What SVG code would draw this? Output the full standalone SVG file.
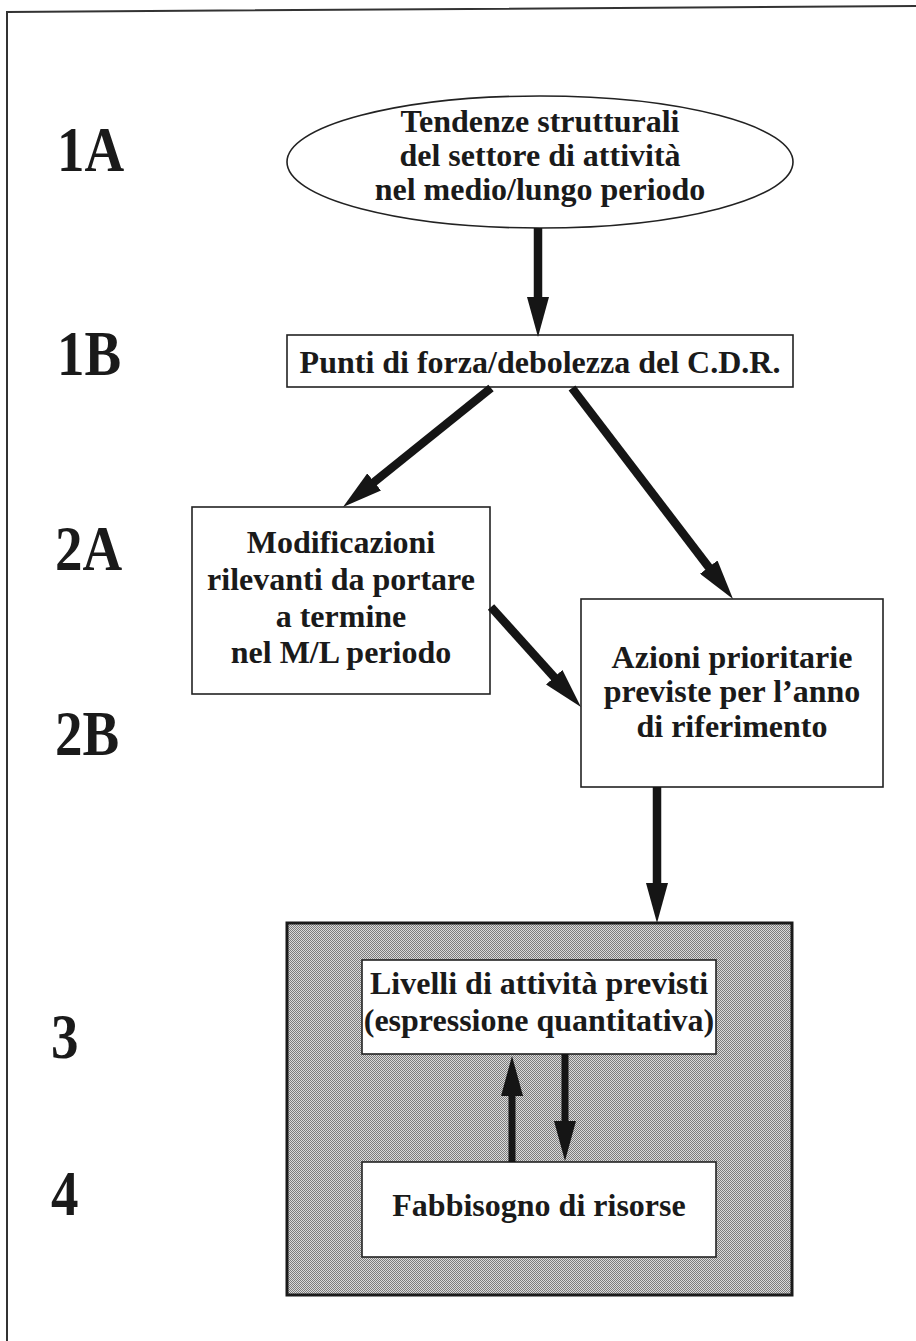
<svg xmlns="http://www.w3.org/2000/svg" width="916" height="1341" viewBox="0 0 916 1341">
<style>
.t{font-family:"Liberation Serif","Times New Roman",serif;font-weight:bold;font-size:32px;fill:#1a1a1a;text-anchor:middle}
.lab{font-family:"Liberation Serif","Times New Roman",serif;font-weight:bold;font-size:55px;fill:#1a1a1a}
.box{fill:#fff;stroke:#222;stroke-width:1.6}
.conn{stroke:#151515;stroke-width:8.5;fill:none;marker-end:url(#ah)}
.conn2{stroke:#151515;stroke-width:7;fill:none;marker-end:url(#ah)}
</style>
<defs>
<marker id="ah" markerUnits="userSpaceOnUse" markerWidth="40" markerHeight="22" viewBox="0 0 40 22" refX="10" refY="11" orient="auto">
<path d="M0,0 L40,11 L0,22 z" fill="#151515"/>
</marker>
<pattern id="dots" width="2" height="2" patternUnits="userSpaceOnUse">
<rect width="2" height="2" fill="#dadada"/>
<rect width="1" height="1" fill="#7c7c7c"/>
<rect x="1" y="1" width="1" height="1" fill="#7c7c7c"/>
</pattern>
</defs>
<rect width="916" height="1341" fill="#fff"/>
<path d="M7,1341 L7,12 L916,6" fill="none" stroke="#333" stroke-width="2"/>

<g id="labels">
<text class="lab" transform="translate(57,171) scale(1,1.15)">1A</text>
<text class="lab" transform="translate(57,375) scale(1,1.15)">1B</text>
<text class="lab" transform="translate(55,570) scale(1,1.15)">2A</text>
<text class="lab" transform="translate(55,755) scale(1,1.15)">2B</text>
<text class="lab" transform="translate(51,1058) scale(1,1.15)">3</text>
<text class="lab" transform="translate(51,1215) scale(1,1.15)">4</text>
</g>

<g id="n1A">
<ellipse class="box" cx="540" cy="162" rx="253" ry="66"/>
<text class="t" x="540" y="132">Tendenze strutturali</text>
<text class="t" x="540" y="166">del settore di attività</text>
<text class="t" x="540" y="200">nel medio/lungo periodo</text>
</g>

<g id="n1B">
<rect class="box" x="287" y="335" width="506" height="52"/>
<text class="t" x="540" y="373">Punti di forza/debolezza del C.D.R.</text>
</g>

<g id="n2A">
<rect class="box" x="192" y="507" width="298" height="187"/>
<text class="t" x="341" y="553">Modificazioni</text>
<text class="t" x="341" y="590">rilevanti da portare</text>
<text class="t" x="341" y="627">a termine</text>
<text class="t" x="341" y="663">nel M/L periodo</text>
</g>

<g id="n2B">
<rect class="box" x="581" y="599" width="302" height="188"/>
<text class="t" x="732" y="668">Azioni prioritarie</text>
<text class="t" x="732" y="702">previste per l’anno</text>
<text class="t" x="732" y="737">di riferimento</text>
</g>

<g id="n34">
<rect x="287" y="923" width="505" height="372" fill="url(#dots)" stroke="#1a1a1a" stroke-width="3"/>
</g>

<g id="n3">
<rect class="box" x="362" y="960" width="354" height="94"/>
<text class="t" x="539" y="994">Livelli di attività previsti</text>
<text class="t" x="539" y="1031">(espressione quantitativa)</text>
</g>

<g id="n4">
<rect class="box" x="362" y="1162" width="354" height="95"/>
<text class="t" x="539" y="1216">Fabbisogno di risorse</text>
</g>

<g id="connectors">
<line class="conn" x1="538" y1="228" x2="538" y2="307"/>
<line class="conn" x1="491" y1="388" x2="366.4" y2="488.2"/>
<line class="conn" x1="572" y1="388" x2="714.8" y2="575.1"/>
<line class="conn" x1="491" y1="607" x2="560.9" y2="684.7"/>
<line class="conn" x1="657" y1="787" x2="657" y2="893"/>
<line class="conn2" x1="512" y1="1162" x2="512" y2="1086"/>
<line class="conn2" x1="565" y1="1054" x2="565" y2="1131"/>
</g>
</svg>
